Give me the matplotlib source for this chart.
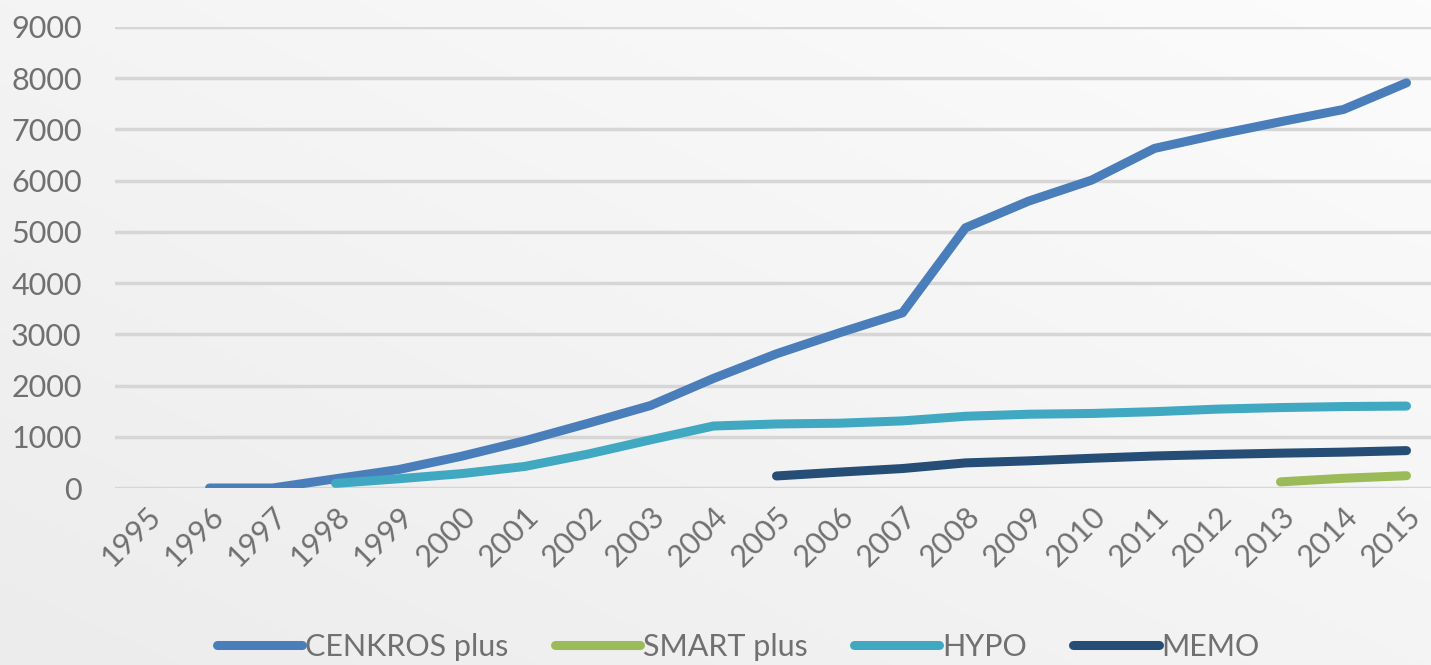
import numpy as np
import matplotlib.pyplot as plt
from matplotlib.colors import LinearSegmentedColormap

years = [str(y) for y in range(1995, 2016)]

# series values (None = no data that year)
cenkros = [None, 0, 0, 180, 360, 620, 920, 1260, 1610, 2140, 2620, 3030, 3420,
           5080, 5600, 6010, 6630, 6900, 7150, 7390, 7910]
smart = [None] * 18 + [120, 190, 240]
hypo = [None, None, None, 90, 180, 280, 420, 660, 940, 1210, 1250, 1265, 1310,
        1400, 1440, 1455, 1490, 1540, 1570, 1590, 1600]
memo = [None] * 10 + [235, 310, 380, 490, 530, 580, 625, 655, 680, 700, 730]

series = [
    ("CENKROS plus", cenkros, "#4a7ebb"),
    ("SMART plus", smart, "#9bbb59"),
    ("HYPO", hypo, "#41a8c1"),
    ("MEMO", memo, "#254d75"),
]

text_color = "#707070"
plt.rcParams['font.family'] = ['Lato', 'DejaVu Sans']

fig = plt.figure(figsize=(14.31, 6.65), dpi=100)

# soft gray gradient background
bg = fig.add_axes([0, 0, 1, 1], zorder=-10)
gx, gy = np.meshgrid(np.linspace(0, 1, 200), np.linspace(0, 1, 200))
grad = 0.5 * gx + 0.5 * gy
bg.imshow(grad, cmap=LinearSegmentedColormap.from_list("bg", ["#ececec", "#fcfcfc"]),
          aspect='auto', origin='lower', extent=[0, 1, 0, 1])
bg.axis('off')

ax = fig.add_axes([115 / 1431, 1 - 488 / 665, 1323 / 1431, 461 / 665])
ax.patch.set_alpha(0)

x = np.arange(len(years))
for name, vals, color in series:
    y = np.array([np.nan if v is None else v for v in vals], dtype=float)
    ax.plot(x, y, color=color, lw=6.5, solid_capstyle='round',
            solid_joinstyle='round', label=name, zorder=3)

ax.set_xlim(-0.5, len(years) - 0.5)
ax.set_ylim(0, 9000)
ax.set_yticks(range(0, 9001, 1000))
ax.set_xticks(x)
ax.set_xticklabels(years, rotation=45, ha='right', va='top', rotation_mode='anchor')
ax.grid(axis='y', color='#d6d6d6', lw=2.5, zorder=0)
ax.tick_params(axis='both', length=0, labelsize=22, colors=text_color)
ax.tick_params(axis='y', pad=24)
ax.tick_params(axis='x', pad=10)
for s in ax.spines.values():
    s.set_visible(False)

fig.legend(loc='lower center', ncol=4, frameon=False, fontsize=22,
           labelcolor=text_color, handlelength=2.8, handletextpad=0.1,
           columnspacing=1.5, bbox_to_anchor=(0.516, -0.035))

fig.savefig('out.png', dpi=100)
